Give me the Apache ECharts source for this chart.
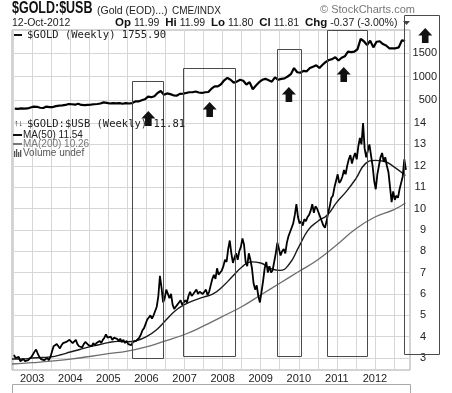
<!DOCTYPE html>
<html><head><meta charset="utf-8">
<script src="https://cdn.jsdelivr.net/npm/echarts@6/dist/echarts.min.js"></script>
<style>html,body{margin:0;padding:0;background:#fff}#c{width:452px;height:393px}</style>
</head><body><div id="c"></div>
<script>
// ---- $GOLD:$USB ratio, half-monthly values ----
const ratio2002 = [3.15, 3.0, 2.95, 3.05, 2.85, 2.9, 2.95, 2.85, 2.8, 2.9, 2.95, 3.05]; // Jul-Dec
const ratio2003 = [3.1, 3.3, 3.4, 3.2, 3.05, 2.95, 3.0, 2.9, 2.95, 3.0, 2.9, 3.05, 3.3, 3.55, 3.5, 3.65, 3.55, 3.45, 3.6, 3.7, 3.65, 3.75, 3.7, 3.85];
const ratio2004 = [3.8, 3.7, 3.75, 3.85, 3.65, 3.55, 3.6, 3.5, 3.65, 3.75, 3.7, 3.6, 3.65, 3.55, 3.7, 3.6, 3.7, 3.75, 3.8, 3.7, 3.85, 3.95, 4.1, 3.95];
const ratio2005 = [3.9, 4.0, 3.85, 3.95, 4.0, 3.9, 3.8, 3.9, 3.75, 3.85, 3.7, 3.8, 3.65, 3.7, 3.6, 3.75, 3.7, 3.8, 3.85, 3.95, 4.1, 4.3, 4.4, 4.6];
const ratio2006 = [4.8, 4.9, 5.0, 4.85, 5.0, 5.2, 5.4, 5.9, 6.85, 6.3, 5.6, 5.8, 6.2, 6.0, 5.8, 6.0, 5.5, 5.3, 5.4, 5.5, 5.6, 5.7, 5.5, 5.6];
const ratio2007 = [5.7, 5.6, 5.9, 6.1, 5.9, 6.0, 6.1, 6.2, 6.0, 6.1, 6.15, 6.0, 6.1, 6.2, 5.95, 6.1, 6.4, 6.7, 6.9, 6.7, 7.2, 6.9, 7.0, 7.1];
const ratio2008 = [7.3, 7.6, 7.5, 8.1, 8.5, 7.9, 7.45, 7.7, 7.9, 7.6, 8.0, 8.2, 8.6, 8.3, 7.5, 7.3, 7.9, 7.6, 7.2, 6.5, 6.2, 6.4, 5.9, 5.6];
const ratio2009 = [6.1, 6.6, 7.2, 7.5, 7.0, 7.3, 7.0, 7.1, 7.5, 7.9, 8.4, 8.1, 7.8, 8.0, 8.1, 7.9, 8.4, 8.7, 8.9, 9.1, 9.3, 9.7, 10.2, 9.6];
const ratio2010 = [9.3, 9.4, 9.2, 9.5, 9.4, 9.6, 9.7, 9.9, 10.2, 9.8, 10.1, 10.0, 9.8, 9.6, 9.4, 9.2, 9.1, 9.4, 9.8, 10.1, 10.5, 10.6, 11.0, 11.3];
const ratio2011 = [11.6, 11.2, 11.3, 11.5, 11.8, 11.6, 12.0, 12.3, 12.5, 12.1, 12.4, 12.6, 12.3, 12.9, 13.3, 13.0, 14.0, 12.8, 12.4, 12.7, 13.0, 12.5, 12.0, 11.3];
const ratio2012 = [10.9, 11.6, 12.0, 12.4, 12.6, 12.2, 12.4, 12.0, 11.7, 11.0, 10.3, 10.8, 10.4, 10.6, 10.5, 10.9, 11.2, 11.5, 12.3, 11.81]; // Jan-Oct

// ---- $GOLD weekly line, monthly values ----
const gold2002 = [315, 310, 320, 318, 320, 340];
const gold2003 = [360, 355, 335, 330, 360, 350, 350, 370, 380, 385, 395, 415];
const gold2004 = [410, 400, 420, 395, 390, 395, 400, 410, 415, 425, 450, 440];
const gold2005 = [425, 435, 430, 435, 420, 435, 425, 435, 470, 470, 495, 515];
const gold2006 = [570, 560, 580, 650, 690, 610, 640, 625, 600, 590, 630, 635];
const gold2007 = [650, 665, 665, 680, 660, 650, 665, 670, 740, 790, 790, 835];
const gold2008 = [920, 970, 930, 870, 890, 930, 910, 830, 880, 730, 810, 880];
const gold2009 = [930, 950, 920, 890, 980, 930, 950, 960, 1000, 1050, 1180, 1090];
const gold2010 = [1080, 1120, 1110, 1180, 1210, 1240, 1180, 1250, 1310, 1350, 1370, 1410];
const gold2011 = [1340, 1400, 1430, 1530, 1520, 1530, 1580, 1800, 1750, 1670, 1760, 1620];
const gold2012 = [1740, 1750, 1690, 1660, 1600, 1600, 1600, 1620, 1770, 1755.9];

// ---- moving averages ----
const ma50Dates = [2002.47, 2002.75, 2003.0, 2003.25, 2003.5, 2003.75, 2004.0, 2004.25, 2004.5, 2004.75, 2005.0, 2005.25, 2005.5, 2005.75, 2006.0, 2006.25, 2006.5, 2006.75, 2007.0, 2007.25, 2007.5, 2007.75, 2008.0, 2008.25, 2008.5, 2008.75, 2009.0, 2009.25, 2009.5, 2009.75, 2010.0, 2010.25, 2010.5, 2010.75, 2011.0, 2011.25, 2011.5, 2011.75, 2012.0, 2012.25, 2012.5, 2012.8];
const ma50Values = [2.95, 2.95, 3.0, 3.02, 3.05, 3.15, 3.28, 3.4, 3.52, 3.62, 3.72, 3.78, 3.76, 3.82, 4.0, 4.3, 4.75, 5.2, 5.5, 5.7, 5.85, 6.0, 6.35, 6.8, 7.25, 7.5, 7.45, 7.2, 7.1, 7.4, 8.2, 9.0, 9.4, 9.7, 10.3, 10.8, 11.4, 12.1, 12.25, 12.2, 11.95, 11.54];
const ma200Dates = [2002.47, 2003.0, 2003.5, 2004.0, 2004.5, 2005.0, 2005.5, 2006.0, 2006.5, 2007.0, 2007.5, 2008.0, 2008.5, 2009.0, 2009.5, 2010.0, 2010.5, 2011.0, 2011.5, 2012.0, 2012.5, 2012.8];
const ma200Values = [2.72, 2.78, 2.85, 2.95, 3.07, 3.2, 3.32, 3.52, 3.8, 4.1, 4.5, 4.95, 5.4, 5.95, 6.5, 7.05, 7.6, 8.3, 9.05, 9.6, 9.95, 10.26];

// ---- axis ticks ----
const yearLabels = [2003, 2004, 2005, 2006, 2007, 2008, 2009, 2010, 2011, 2012];
const halfYearLines = [2002.5, 2003, 2003.5, 2004, 2004.5, 2005, 2005.5, 2006, 2006.5, 2007, 2007.5, 2008, 2008.5, 2009, 2009.5, 2010, 2010.5, 2011, 2011.5, 2012, 2012.5];
const ratioTicks = [3, 4, 5, 6, 7, 8, 9, 10, 11, 12, 13, 14];
const goldTicks = [500, 1000, 1500];

// ---- annotations (data coordinates) ----
const boxStart = [2005.61, 2006.95, 2009.42, 2010.74, 2012.76];
const boxEnd = [2006.42, 2008.32, 2010.05, 2011.79, 2013.68];
const boxTopGold = [904, 1181, 1585, 1989, 2309];
const boxBottomRatio = [3.0, 3.09, 3.09, 3.09, 3.19];
const arrowYear = [2006.05, 2007.66, 2009.74, 2011.18, 2013.32];
const arrowTipGold = [266, 457, 777, 1202, 2032];

function series(arrs, firstYear, firstSlot, perYear) {
  const out = [];
  arrs.forEach((arr, i) => {
    const yr = firstYear + i;
    const s0 = i === 0 ? firstSlot : 0;
    arr.forEach((v, j) => out.push([yr + (s0 + j + 0.5) / perYear, v]));
  });
  return out;
}
const ratioData = series([ratio2002, ratio2003, ratio2004, ratio2005, ratio2006, ratio2007, ratio2008, ratio2009, ratio2010, ratio2011, ratio2012], 2002, 12, 24);
const goldData = series([gold2002, gold2003, gold2004, gold2005, gold2006, gold2007, gold2008, gold2009, gold2010, gold2011, gold2012], 2002, 6, 12);
const ma50Data = ma50Dates.map((d, i) => [d, ma50Values[i]]);
const ma200Data = ma200Dates.map((d, i) => [d, ma200Values[i]]);

const FONT = '"Liberation Sans", Arial, sans-serif';
const MONO = '"DejaVu Sans Mono", monospace';
const chart = echarts.init(document.getElementById('c'), null, { renderer: 'canvas' });
chart.setOption({
  animation: false,
  backgroundColor: '#fff',
  grid: { left: 12, right: 42, top: 30, bottom: 23, show: true, borderColor: '#a8a8a8', borderWidth: 1 },
  xAxis: {
    type: 'value', min: 2002.47, max: 2012.92,
    axisLine: { show: false },
    axisTick: { show: true, customValues: halfYearLines, length: 14, lineStyle: { color: '#d6d6d6' } },
    splitLine: { show: true, lineStyle: { color: '#d6d6d6', width: 1 } },
    axisLabel: { customValues: yearLabels, formatter: v => String(Math.round(v)), margin: 3, color: '#222', fontFamily: FONT, fontSize: 11 }
  },
  yAxis: [
    {
      type: 'value', position: 'right', min: 2.438, max: 18.356,
      axisLine: { show: false },
      axisTick: { show: false, customValues: ratioTicks },
      splitLine: { show: true, lineStyle: { color: '#d6d6d6' } },
      axisLabel: { customValues: ratioTicks, formatter: v => String(v), align: 'right', margin: 16, color: '#222', fontFamily: FONT, fontSize: 11 }
    },
    {
      type: 'value', position: 'right', min: -5244.7, max: 1989.4,
      axisLine: { show: false },
      axisTick: { show: false, customValues: goldTicks },
      splitLine: { show: true, lineStyle: { color: '#d6d6d6' } },
      axisLabel: { customValues: goldTicks, formatter: v => String(v), align: 'right', margin: 27, color: '#222', fontFamily: FONT, fontSize: 11 }
    }
  ],
  series: [
    { name: 'MA200', type: 'line', yAxisIndex: 0, data: ma200Data, smooth: true, symbol: 'none', lineStyle: { color: '#6e6e6e', width: 1.3 } },
    { name: 'MA50', type: 'line', yAxisIndex: 0, data: ma50Data, smooth: true, symbol: 'none', lineStyle: { color: '#1a1a1a', width: 1.4 } },
    { name: 'ratio', type: 'line', yAxisIndex: 0, data: ratioData, symbol: 'none', lineStyle: { color: '#000', width: 1.8 } },
    { name: 'gold', type: 'line', yAxisIndex: 1, data: goldData, symbol: 'none', lineStyle: { color: '#000', width: 2.2 } }
  ]
});

const g = [];
boxStart.forEach((s, i) => {
  const tl = chart.convertToPixel({ xAxisIndex: 0, yAxisIndex: 1 }, [s, boxTopGold[i]]);
  const br = chart.convertToPixel({ xAxisIndex: 0, yAxisIndex: 0 }, [boxEnd[i], boxBottomRatio[i]]);
  g.push({ type: 'rect', z: 50, shape: { x: Math.round(tl[0]) + 0.5, y: Math.round(tl[1]) + 0.5, width: Math.round(br[0] - tl[0]), height: Math.round(br[1] - tl[1]) },
    style: { fill: 'none', stroke: '#4a4a4a', lineWidth: 1 } });
});
g.push({ type: 'text', z: 60, x: 12, y: 9, scaleX: 0.78, style: { text: '$GOLD:$USB', font: 'bold 16px ' + FONT, fill: '#111', verticalAlign: 'middle' } });
g.push({ type: 'text', z: 60, x: 97, y: 11, style: { text: '(Gold (EOD)...)', font: '10.5px ' + FONT, fill: '#222', verticalAlign: 'middle' } });
g.push({ type: 'text', z: 60, x: 172, y: 11, style: { text: 'CME/INDX', font: '10px ' + FONT, fill: '#222', verticalAlign: 'middle' } });
g.push({ type: 'text', z: 60, x: 320, y: 10, style: { text: '© StockCharts.com', font: '11px ' + FONT, fill: '#777', verticalAlign: 'middle' } });
g.push({ type: 'text', z: 60, x: 12, y: 23, style: { text: '12-Oct-2012', font: '10.5px ' + FONT, fill: '#222', verticalAlign: 'middle' } });
g.push({ type: 'text', z: 60, x: 115, y: 23, style: {
  text: '{b|Op} 11.99  {b|Hi} 11.99  {b|Lo} 11.80  {b|Cl} 11.81  {b|Chg} -0.37 (-3.00%)',
  font: '10.5px ' + FONT, fill: '#222', verticalAlign: 'middle',
  rich: { b: { fontWeight: 'bold', fontSize: 11.5, fontFamily: FONT, fill: '#111' } } } });
g.push({ type: 'polygon', z: 60, shape: { points: [[403, 21], [410, 21], [406.5, 25]] }, style: { fill: '#444' } });
g.push({ type: 'line', z: 60, shape: { x1: 14, y1: 35, x2: 22, y2: 35 }, style: { stroke: '#111', lineWidth: 2 } });
g.push({ type: 'text', z: 60, x: 27, y: 35, style: { text: '$GOLD (Weekly) 1755.90', font: '10.5px ' + MONO, fill: '#222', verticalAlign: 'middle' } });
g.push({ type: 'text', z: 60, x: 14, y: 124, style: { text: '↑↓', font: 'bold 9px ' + FONT, fill: '#222', verticalAlign: 'middle' } });
g.push({ type: 'text', z: 60, x: 27, y: 124, style: { text: '$GOLD:$USB (Weekly) 11.81', font: '10.5px ' + MONO, fill: '#222', verticalAlign: 'middle' } });
g.push({ type: 'line', z: 60, shape: { x1: 13, y1: 135, x2: 22, y2: 135 }, style: { stroke: '#111', lineWidth: 2 } });
g.push({ type: 'text', z: 60, x: 23, y: 135, style: { text: 'MA(50) 11.54', font: '10px ' + FONT, fill: '#222', verticalAlign: 'middle' } });
g.push({ type: 'line', z: 60, shape: { x1: 13, y1: 144, x2: 22, y2: 144 }, style: { stroke: '#777', lineWidth: 2 } });
g.push({ type: 'text', z: 60, x: 23, y: 144, style: { text: 'MA(200) 10.26', font: '10px ' + FONT, fill: '#777', verticalAlign: 'middle' } });
[[14, 151], [16, 149], [18, 152], [20, 150]].forEach(p => g.push({ type: 'rect', z: 60, shape: { x: p[0], y: p[1], width: 1.3, height: 157 - p[1] }, style: { fill: '#555' } }));
g.push({ type: 'text', z: 60, x: 23, y: 153, style: { text: 'Volume undef', font: '10px ' + FONT, fill: '#555', verticalAlign: 'middle' } });
arrowYear.forEach((yr, i) => {
  const p = chart.convertToPixel({ xAxisIndex: 0, yAxisIndex: 1 }, [yr, arrowTipGold[i]]);
  const cx = p[0], ty = p[1];
  g.push({ type: 'polygon', z: 70, shape: { points: [[cx, ty], [cx + 7, ty + 7.5], [cx + 3.3, ty + 7.5], [cx + 3.3, ty + 15], [cx - 3.3, ty + 15], [cx - 3.3, ty + 7.5], [cx - 7, ty + 7.5]] },
    style: { fill: '#111' } });
});
g.push({ type: 'polyline', z: 40, shape: { points: [[12.5, 393], [12.5, 384.5], [410.5, 384.5], [410.5, 393]] }, style: { stroke: '#a8a8a8', lineWidth: 1, fill: 'none' } });
chart.setOption({ graphic: g });
</script></body></html>
